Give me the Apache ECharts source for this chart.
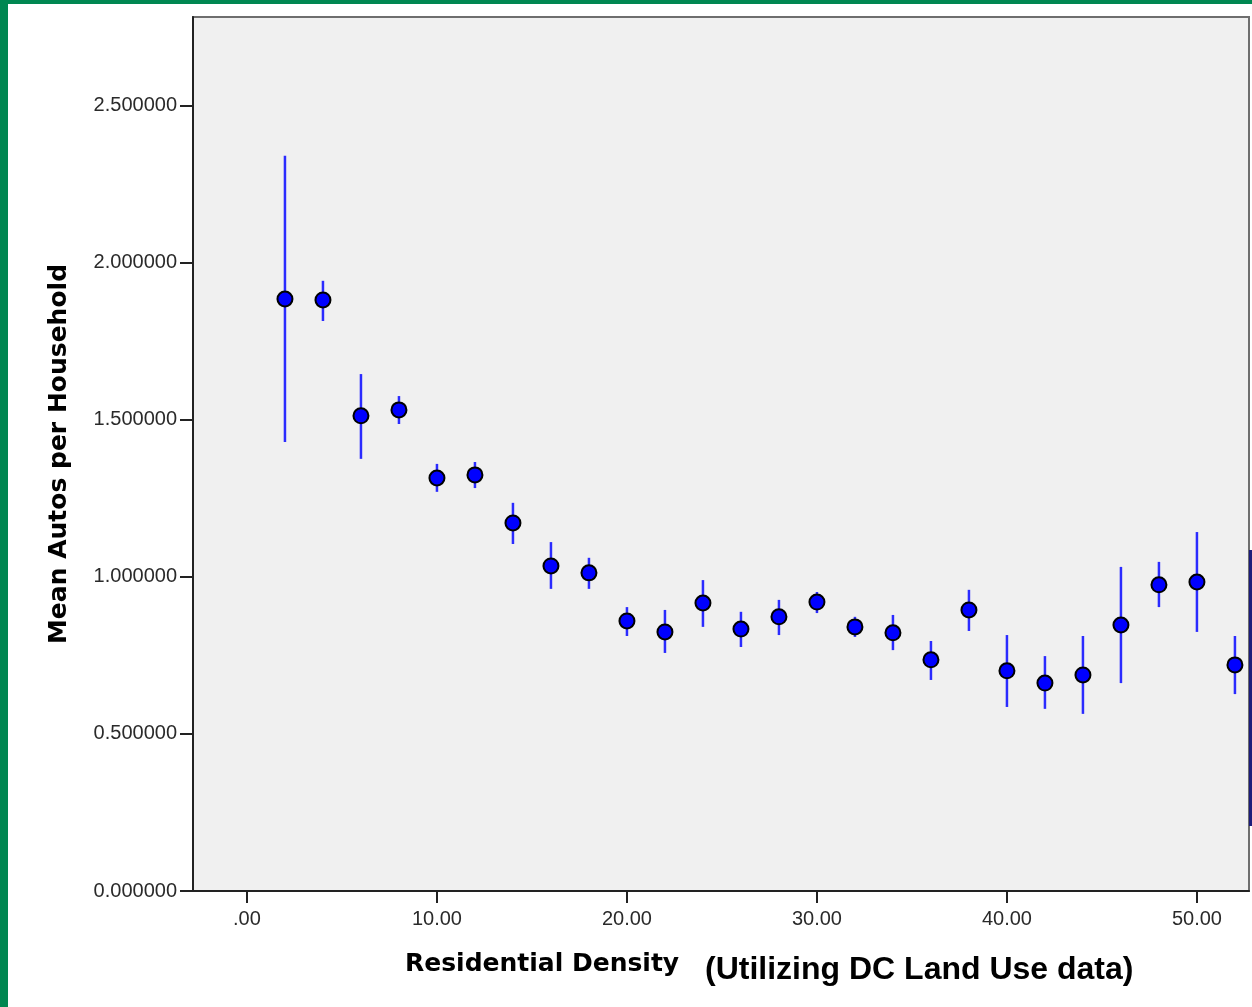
<!DOCTYPE html>
<html>
<head>
    <meta charset="utf-8">
    <title>Mean Autos per Household</title>
    <script src="https://cdn.jsdelivr.net/npm/echarts@6/dist/echarts.min.js"></script>
    <style>
        html, body { margin: 0; padding: 0; background: #fff; }
        #main { width: 1252px; height: 1007px; }
    </style>
</head>
<body>
<div id="main"></div>
<script type="text/javascript">
    // residential density bins
    var density = [2, 4, 6, 8, 10, 12, 14, 16, 18, 20, 22, 24, 26, 28, 30, 32, 34, 36, 38, 40, 42, 44, 46, 48, 50, 52];
    // mean autos per household
    var meanAutos = [1.885, 1.882, 1.513, 1.532, 1.315, 1.325, 1.172, 1.035, 1.013, 0.860, 0.825, 0.917, 0.834,
        0.873, 0.920, 0.841, 0.822, 0.736, 0.895, 0.701, 0.662, 0.688, 0.847, 0.975, 0.984, 0.720];
    // error bar ends
    var errHigh = [2.341, 1.943, 1.646, 1.576, 1.360, 1.366, 1.236, 1.111, 1.061, 0.904, 0.895, 0.990, 0.889,
        0.927, 0.952, 0.873, 0.879, 0.796, 0.959, 0.815, 0.748, 0.812, 1.032, 1.048, 1.143, 0.812];
    var errLow = [1.430, 1.815, 1.376, 1.487, 1.271, 1.283, 1.105, 0.962, 0.962, 0.812, 0.758, 0.841, 0.777,
        0.815, 0.885, 0.809, 0.767, 0.672, 0.828, 0.586, 0.580, 0.564, 0.662, 0.904, 0.825, 0.627];

    var xTicks = [0, 10, 20, 30, 40, 50];
    var yTicks = [0, 0.5, 1.0, 1.5, 2.0, 2.5];

    var points = [], bars = [];
    for (var i = 0; i < density.length; i++) {
        points.push([density[i], meanAutos[i]]);
        bars.push([density[i], errLow[i], errHigh[i]]);
    }

    function renderBar(params, api) {
        var lo = api.coord([api.value(0), api.value(1)]);
        var hi = api.coord([api.value(0), api.value(2)]);
        return {
            type: 'line',
            shape: {x1: lo[0], y1: lo[1], x2: hi[0], y2: hi[1]},
            style: {stroke: '#2b2bff', lineWidth: 2.5}
        };
    }

    var tickFont = {color: '#2a2a2a', fontSize: 20, fontFamily: 'Liberation Sans, Arial, sans-serif'};

    var chart = echarts.init(document.getElementById('main'));
    var option = {
        animation: false,
        backgroundColor: '#fff',
        grid: {
            left: 193, top: 17, right: 3, bottom: 116,
            show: true,
            backgroundColor: '#f0f0f0',
            borderColor: '#6e6e6e',
            borderWidth: 2
        },
        xAxis: {
            type: 'value',
            min: -2.84,
            max: 52.74,
            axisLine: {show: true, onZero: false, lineStyle: {color: '#222', width: 2}},
            axisTick: {show: true, customValues: xTicks, length: 12, lineStyle: {color: '#222', width: 2}},
            axisLabel: Object.assign({
                customValues: xTicks,
                margin: 18,
                formatter: function (v) {
                    return v.toFixed(2).replace(/^0/, '');
                }
            }, tickFont),
            splitLine: {show: false}
        },
        yAxis: {
            type: 'value',
            min: 0,
            max: 2.783,
            name: 'Mean Autos per Household',
            nameLocation: 'middle',
            nameGap: 121,
            nameTextStyle: {color: '#000', fontSize: 25, fontWeight: 'bold', fontFamily: 'DejaVu Sans, Verdana, sans-serif'},
            axisLine: {show: true, onZero: false, lineStyle: {color: '#222', width: 2}},
            axisTick: {show: true, customValues: yTicks, length: 13, lineStyle: {color: '#222', width: 2}},
            axisLabel: Object.assign({
                customValues: yTicks,
                margin: 16,
                formatter: function (v) {
                    return v.toFixed(6);
                }
            }, tickFont),
            splitLine: {show: false}
        },
        series: [{
            type: 'custom',
            renderItem: renderBar,
            data: bars,
            encode: {x: 0, y: [1, 2]},
            z: 2
        }, {
            type: 'scatter',
            data: points,
            symbol: 'circle',
            symbolSize: 15,
            itemStyle: {color: '#0000ff', opacity: 1, borderColor: '#000', borderWidth: 2},
            z: 3
        }],
        graphic: [
            {type: 'rect', left: 0, top: 0, shape: {width: 8, height: 1007}, style: {fill: '#008751'}},
            {type: 'rect', left: 0, top: 0, shape: {width: 1252, height: 4}, style: {fill: '#008751'}},
            {type: 'rect', left: 1249, top: 550, shape: {width: 3, height: 276}, style: {fill: '#1c1c7a'}},
            {
                type: 'text', left: 405, top: 952,
                style: {text: 'Residential Density', fill: '#000', fontSize: 25, fontWeight: 'bold',
                    fontFamily: 'DejaVu Sans, Verdana, sans-serif'}
            },
            {
                type: 'text', left: 705, top: 954,
                style: {text: '(Utilizing DC Land Use data)', fill: '#000', fontSize: 32, fontWeight: 'bold',
                    fontFamily: 'Liberation Sans, Arial, sans-serif'}
            }
        ]
    };
    chart.setOption(option);
</script>
</body>
</html>
